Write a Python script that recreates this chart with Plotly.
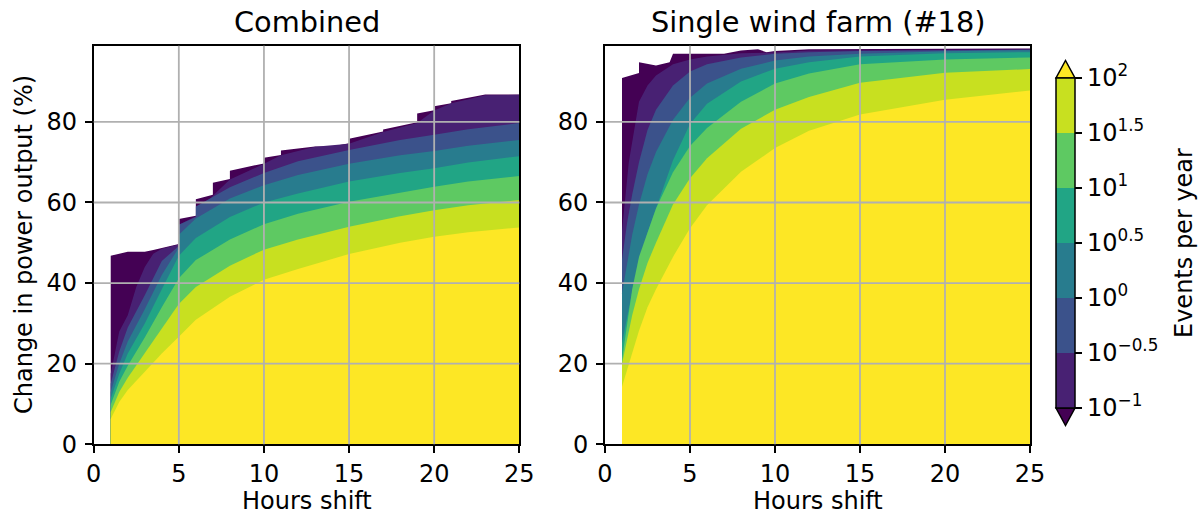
import plotly.graph_objects as go

# ---------------- data ----------------
# Left panel: "Combined"
left_env_x = [1, 2, 3, 3.5, 5, 5, 6, 6, 7, 7, 8, 8, 10, 10, 11, 11, 13, 14, 15, 15, 17, 17, 19, 19, 20, 20, 21, 21, 23, 25]
left_env_y = [46.8, 47.8, 47.8, 48.2, 49.7, 55.9, 56.7, 60.8, 61.9, 64.9, 65.8, 67.9, 69.7, 71.1, 71.8, 72.9, 73.9, 73.9, 74.7, 75.8, 77.6, 78.1, 79.9, 82.1, 82.9, 83.9, 84.6, 85.2, 86.8, 86.8]

left_cm1_x = [1, 1.5, 2, 2.5, 3, 3.5, 4, 5, 5, 6, 7, 8, 10, 11, 13, 15, 17, 19, 20, 21, 23, 25]
left_cm1_y = [17.5, 28.0, 32.0, 39.0, 44.0, 47.3, 48.5, 49.6, 54.5, 56.6, 61.7, 65.7, 69.6, 71.7, 73.8, 74.6, 77.5, 79.7, 82.8, 84.6, 86.6, 86.7]

left_cm05_x = [1, 1.5, 2, 3, 4, 5, 5, 6, 6, 7, 8, 10, 12, 15, 18, 20, 22, 25]
left_cm05_y = [15.0, 23.0, 29.0, 37.0, 45.5, 49.2, 54.5, 56.4, 59.0, 61.5, 63.8, 67.3, 70.2, 73.0, 75.5, 76.8, 78.2, 79.7]

left_c0_x = [1, 1.5, 2, 3, 4, 5, 5, 6, 8, 10, 12, 15, 18, 20, 22, 25]
left_c0_y = [13.0, 20.0, 25.5, 33.5, 42.0, 48.8, 52.0, 56.0, 61.0, 64.3, 66.8, 69.6, 71.7, 72.8, 74.1, 75.5]

left_x = [1, 1.5, 2, 3, 4, 5, 6, 8, 10, 12, 15, 18, 20, 22, 25]
left_c05_y = [11.3, 17.5, 22.5, 30.0, 38.5, 46.8, 51.2, 56.4, 60.0, 62.2, 65.2, 67.3, 68.5, 69.9, 71.5]
left_c1_y = [9.8, 15.5, 19.5, 26.5, 34.0, 41.2, 45.7, 50.8, 54.6, 57.2, 60.2, 62.5, 63.9, 65.2, 66.6]
left_c15_y = [8.0, 13.0, 16.5, 22.5, 28.5, 34.8, 39.0, 44.3, 48.3, 50.8, 54.0, 56.6, 58.1, 59.3, 60.6]
left_c2_y = [6.3, 10.5, 13.5, 18.0, 22.5, 26.7, 30.9, 36.6, 40.8, 43.5, 47.2, 50.0, 51.5, 52.6, 53.8]

# Right panel: "Single wind farm (#18)"
right_env_x = [1, 2, 2, 3, 3.8, 4, 7, 8, 9, 9.5, 10, 12, 25]
right_env_y = [90.9, 92.1, 94.8, 94.0, 94.8, 96.9, 96.9, 97.7, 98.0, 97.3, 97.6, 98.0, 98.2]

right_cm1_x = [1, 1.16, 1.4, 1.8, 2, 2.5, 3, 4, 5, 6, 8, 10, 12, 25]
right_cm1_y = [53, 60, 70, 80, 85, 89, 91.5, 94.3, 95.5, 96.2, 97.0, 97.2, 97.7, 98.0]

right_x = [1, 1.3, 1.6, 2, 2.5, 3, 4, 5, 6, 8, 10, 12, 15, 20, 25]
right_cm05_y = [45.8, 55, 62, 70, 78, 83, 89, 92.5, 94.3, 96.0, 96.9, 97.3, 97.6, 97.8, 97.9]
right_c0_y = [37.5, 45, 52, 59.5, 67, 72.5, 80.5, 86, 89.5, 93.2, 95.2, 96.2, 96.9, 97.5, 97.8]
right_c05_y = [25.1, 32, 38, 45, 52.5, 58.5, 70.5, 79.5, 84.5, 90, 93.2, 94.8, 96.2, 97.0, 97.3]
right_c1_y = [21, 30, 38.5, 46.5, 52.5, 58.5, 67.5, 74, 78.5, 85, 89.5, 92, 94.3, 95.5, 96.0]
right_c15_y = [20, 26, 32, 38.5, 45, 50, 59.5, 66, 71, 78.3, 83, 86.2, 89.7, 92.2, 93.1]
right_c2_y = [14.3, 18.5, 23, 28.2, 34, 38.5, 46.5, 53.6, 59.3, 67.6, 73.5, 77.8, 81.8, 85.5, 87.8]

# colour levels (log10 events per year)
levels = [-1, -0.5, 0, 0.5, 1, 1.5, 2]
level_labels = ["10<sup>\u22121</sup>", "10<sup>\u22120.5</sup>", "10<sup>0</sup>", "10<sup>0.5</sup>",
                "10<sup>1</sup>", "10<sup>1.5</sup>", "10<sup>2</sup>"]
under_color = "#440154"
band_colors = ["#482173", "#3b528b", "#287c8e", "#21a585", "#5ec962", "#c8e020"]
over_color = "#fde725"

FONT = "DejaVu Sans"
W, H = 1203, 516
BASE = 24
TITLE = 28.8

# pixel geometry
ax_top, ax_bot = 45.7, 444.3
L_x0, L_x1 = 93.7, 519.3
R_x0, R_x1 = 605.0, 1030.0


def px(x):
    return x / W


def py(y):
    return 1 - y / H


fig = go.Figure()


def add_panel(xa, ya, layers):
    for xs, ys, col in layers:
        fig.add_trace(go.Scatter(x=xs, y=ys, mode="lines", line=dict(width=0, color=col),
                                 fill="tozeroy", fillcolor=col, xaxis=xa, yaxis=ya,
                                 hoverinfo="skip", showlegend=False))


add_panel("x", "y", [
    (left_env_x, left_env_y, under_color),
    (left_cm1_x, left_cm1_y, band_colors[0]),
    (left_cm05_x, left_cm05_y, band_colors[1]),
    (left_c0_x, left_c0_y, band_colors[2]),
    (left_x, left_c05_y, band_colors[3]),
    (left_x, left_c1_y, band_colors[4]),
    (left_x, left_c15_y, band_colors[5]),
    (left_x, left_c2_y, over_color),
])
add_panel("x2", "y2", [
    (right_env_x, right_env_y, under_color),
    (right_cm1_x, right_cm1_y, band_colors[0]),
    (right_x, right_cm05_y, band_colors[1]),
    (right_x, right_c0_y, band_colors[2]),
    (right_x, right_c05_y, band_colors[3]),
    (right_x, right_c1_y, band_colors[4]),
    (right_x, right_c15_y, band_colors[5]),
    (right_x, right_c2_y, over_color),
])

# discrete colorscale for colour bar
n = len(band_colors)
cs = []
for i, c in enumerate(band_colors):
    cs.append([i / n, c])
    cs.append([(i + 1) / n, c])

cb_top, cb_bot = 78.0, 408.0
cb_left, cb_w = 1056.0, 19.0
fig.add_trace(go.Scatter(
    x=[None], y=[None], mode="markers", xaxis="x", yaxis="y", showlegend=False,
    marker=dict(color=[0.5], colorscale=cs, cmin=levels[0], cmax=levels[-1], showscale=True,
                colorbar=dict(
                    x=px(cb_left), xanchor="left", xpad=0, ypad=0,
                    y=py((cb_top + cb_bot) / 2), yanchor="middle",
                    len=cb_bot - cb_top, lenmode="pixels",
                    thickness=cb_w, thicknessmode="pixels",
                    outlinecolor="black", outlinewidth=1.5,
                    tickmode="array", tickvals=levels, ticktext=level_labels,
                    ticks="outside", ticklen=7, tickwidth=1.5, tickcolor="black",
                    tickfont=dict(family=FONT, size=BASE, color="black"),
                ))))

axis_common = dict(showgrid=False, zeroline=False, showline=True, mirror=True,
                   linecolor="black", linewidth=1.6, ticks="outside", ticklen=7,
                   tickwidth=1.6, tickcolor="black", automargin=False,
                   tickfont=dict(family=FONT, size=BASE, color="black"))

fig.update_layout(
    width=W, height=H, margin=dict(l=0, r=0, t=0, b=0, autoexpand=False),
    paper_bgcolor="white", plot_bgcolor="white",
    xaxis=dict(domain=[px(L_x0), px(L_x1)], range=[0, 25], tickvals=[0, 5, 10, 15, 20, 25], anchor="y", **axis_common),
    yaxis=dict(domain=[py(ax_bot), py(ax_top)], range=[0, 98.9], tickvals=[0, 20, 40, 60, 80], anchor="x",
               ticklabelstandoff=3, **axis_common),
    xaxis2=dict(domain=[px(R_x0), px(R_x1)], range=[0, 25], tickvals=[0, 5, 10, 15, 20, 25], anchor="y2", **axis_common),
    yaxis2=dict(domain=[py(ax_bot), py(ax_top)], range=[0, 98.9], tickvals=[0, 20, 40, 60, 80], anchor="x2",
                ticklabelstandoff=3, **axis_common),
)

# grid lines drawn above the filled contours
grid_style = dict(color="#b0b0b0", width=1.8)
for xa, ya in [("x", "y"), ("x2", "y2")]:
    for gx in [5, 10, 15, 20]:
        fig.add_shape(type="line", xref=xa, yref=ya + " domain", x0=gx, x1=gx, y0=0, y1=1,
                      line=grid_style, layer="above")
    for gy in [20, 40, 60, 80]:
        fig.add_shape(type="line", xref=xa + " domain", yref=ya, x0=0, x1=1, y0=gy, y1=gy,
                      line=grid_style, layer="above")

# colour-bar extension triangles
tri_h = 17.5
cx = cb_left + cb_w / 2
fig.add_shape(type="path", xref="paper", yref="paper",
              path=f"M {px(cb_left)} {py(cb_top)} L {px(cb_left + cb_w)} {py(cb_top)} L {px(cx)} {py(cb_top - tri_h)} Z",
              fillcolor=over_color, line=dict(color="black", width=1.5), layer="above")
fig.add_shape(type="path", xref="paper", yref="paper",
              path=f"M {px(cb_left)} {py(cb_bot)} L {px(cb_left + cb_w)} {py(cb_bot)} L {px(cx)} {py(cb_bot + tri_h)} Z",
              fillcolor=under_color, line=dict(color="black", width=1.5), layer="above")

txt = dict(family=FONT, size=BASE, color="black")
ttl = dict(family=FONT, size=TITLE, color="black")
fig.add_annotation(text="Combined", x=px((L_x0 + L_x1) / 2), y=py(22), xref="paper", yref="paper",
                   showarrow=False, xanchor="center", yanchor="middle", font=ttl)
fig.add_annotation(text="Single wind farm (#18)", x=px((R_x0 + R_x1) / 2), y=py(22), xref="paper", yref="paper",
                   showarrow=False, xanchor="center", yanchor="middle", font=ttl)
fig.add_annotation(text="Hours shift", x=px((L_x0 + L_x1) / 2), y=py(501), xref="paper", yref="paper",
                   showarrow=False, xanchor="center", yanchor="middle", font=txt)
fig.add_annotation(text="Hours shift", x=px((R_x0 + R_x1) / 2), y=py(501), xref="paper", yref="paper",
                   showarrow=False, xanchor="center", yanchor="middle", font=txt)
fig.add_annotation(text="Change in power output (%)", x=px(24), y=py((ax_top + ax_bot) / 2),
                   xref="paper", yref="paper", showarrow=False, textangle=-90,
                   xanchor="center", yanchor="middle", font=txt)
fig.add_annotation(text="Events per year", x=px(1184), y=py((cb_top + cb_bot) / 2),
                   xref="paper", yref="paper", showarrow=False, textangle=-90,
                   xanchor="center", yanchor="middle", font=txt)

fig.write_html("out.html")
